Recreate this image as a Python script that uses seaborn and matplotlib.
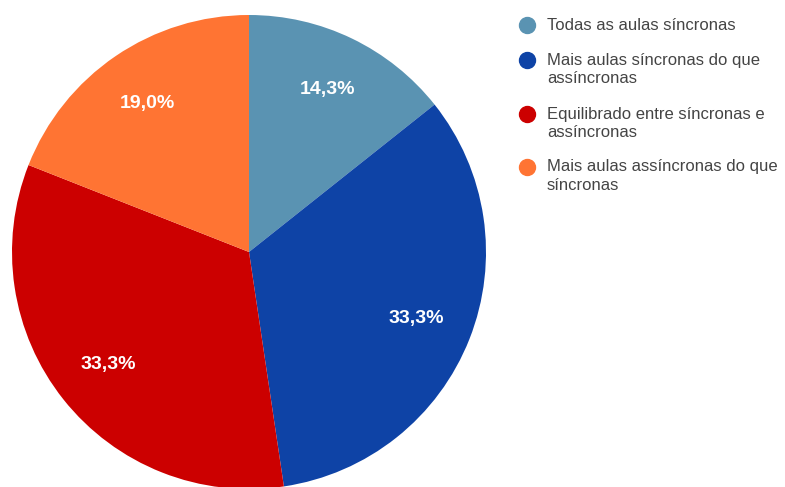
import matplotlib
matplotlib.use("Agg")
import matplotlib.pyplot as plt
from matplotlib.lines import Line2D
import seaborn as sns

categories = [
    "Todas as aulas síncronas",
    "Mais aulas síncronas do que\nassíncronas",
    "Equilibrado entre síncronas e\nassíncronas",
    "Mais aulas assíncronas do que\nsíncronas",
]
shares = [14.3, 33.3, 33.3, 19.0]
colors = ["#5a93b2", "#0e43a6", "#cc0000", "#ff7433"]

sns.set_theme(style="white")
plt.rcParams["font.family"] = ["Liberation Sans", "DejaVu Sans"]

W, H = 785, 487
fig = plt.figure(figsize=(W / 100, H / 100), dpi=100)

# pie centred at (249, 252) px with radius ~237 px
cx, cy, r = 249, 252, 237
ax = fig.add_axes([(cx - r) / W, (H - cy - r) / H, 2 * r / W, 2 * r / H])
wedges, _, autotexts = ax.pie(
    shares,
    colors=colors,
    startangle=90,
    counterclock=False,
    autopct=lambda p: f"{p:.1f}%".replace(".", ","),
    pctdistance=0.76,
    radius=1.0,
    wedgeprops=dict(linewidth=0),
    textprops=dict(color="white", fontsize=14, fontweight="bold"),
)
ax.set_xlim(-1, 1)
ax.set_ylim(-1, 1)
ax.set_aspect("equal")
ax.axis("off")

# legend drawn as markers + wrapped labels, one text per line
legend_y = [25, 60, 114, 167]
line_step = 18.5
for col, label, y in zip(colors, categories, legend_y):
    fig.add_artist(
        Line2D(
            [527 / W], [1 - y / H], marker="o", markersize=11.5,
            color=col, linestyle="none", transform=fig.transFigure,
        )
    )
    for i, line in enumerate(label.split("\n")):
        fig.text(547 / W, 1 - (y + i * line_step) / H, line, fontsize=12,
                 color="#444444", va="center", ha="left")

fig.savefig("out.png", dpi=100)
